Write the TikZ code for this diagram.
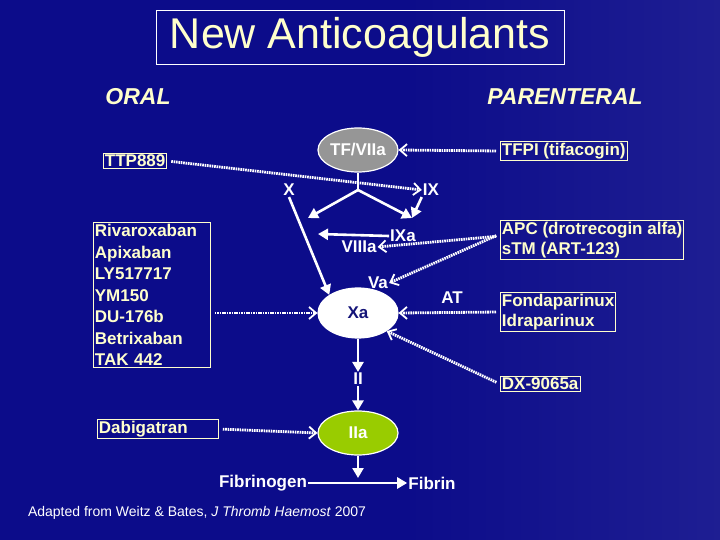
\documentclass[tikz,border=0pt]{standalone}
\usepackage{fontspec}
\setmainfont{Liberation Sans}
\usetikzlibrary{arrows.meta,shapes.geometric}
\definecolor{bg}{RGB}{12,12,138}
\definecolor{cream}{RGB}{255,255,204}
\definecolor{tfgray}{RGB}{150,150,150}
\definecolor{iiagreen}{RGB}{153,204,0}
\definecolor{xatext}{RGB}{20,20,120}
\begin{document}
\begin{tikzpicture}[x=1pt,y=-1pt,
  drug/.style={draw=cream,line width=0.8pt,text=cream,font=\bfseries\fontsize{17}{20}\selectfont,inner sep=1.5pt,align=left,anchor=west},
  lbl/.style={text=white,font=\bfseries\fontsize{17}{20}\selectfont,inner sep=1pt},
  fact/.style={ellipse,draw=white,line width=1.2pt,minimum width=80pt,minimum height=46pt,inner sep=0pt,font=\bfseries\fontsize{17}{20}\selectfont},
  dot/.style={white,line width=2.8pt,dash pattern=on 1.6pt off 0.8pt,shorten <=4pt,-{Straight Barb[length=7pt,width=12pt,line width=1.8pt]}},
  sol/.style={white,line width=2.6pt,-{Triangle[length=10pt,width=11pt]}},
  hd/.style={text=cream,font=\bfseries\itshape\fontsize{23}{26}\selectfont}]
\fill[bg] (0,0) rectangle (720,540);
\shade[left color=bg,right color=bg!70!white,opacity=0.25] (400,0) rectangle (720,540);
\node[draw=white,line width=0.8pt,text=cream,font=\fontsize{43}{46}\selectfont,minimum width=408pt,minimum height=54pt,inner sep=0pt] (title) at (360,37) {New Anticoagulants};
\node[hd] (oral) at (138,97) {ORAL};
\node[hd] (par) at (565,97) {PARENTERAL};
\node[fact,fill=tfgray,text=white,minimum height=44pt] (tf) at (358,150) {TF/VIIa};
\node[fact,fill=white,text=xatext,minimum height=50pt] (xa) at (358,313) {Xa};
\node[fact,fill=iiagreen,text=white,minimum height=44pt] (iia) at (358,433) {IIa};
\node[drug] (ttp) at (103,161) {TTP889};
\node[drug] (tfpi) at (500,151) {TFPI (tifacogin)};
\node[drug,text width=114pt,font=\bfseries\fontsize{17}{21.5}\selectfont] (riva) at (93,295) {Rivaroxaban\\Apixaban\\LY517717\\YM150\\DU-176b\\Betrixaban\\TAK 442};
\node[drug] (apc) at (500,240) {APC (drotrecogin alfa)\\sTM (ART-123)};
\node[drug] (fonda) at (500,312) {Fondaparinux\\Idraparinux};
\node[drug] (dx) at (500,384) {DX-9065a};
\node[drug,text width=118pt] (dabi) at (97,429) {Dabigatran};
\node[lbl] (x) at (289,190) {X};
\node[lbl] (ix) at (431,190) {IX};
\node[lbl] (ixa) at (403,236) {IXa};
\node[lbl] (viiia) at (359,247) {VIIIa};
\node[lbl] (va) at (378,283) {Va};
\node[lbl] (at) at (452,298) {AT};
\node[lbl] (ii) at (358,379) {II};
\node[lbl] (fgn) at (263,483) {Fibrinogen};
\node[lbl] (fbn) at (432,483) {Fibrin};
\node[text=white,font=\fontsize{14}{16}\selectfont] (cite) at (197,513) {Adapted from Weitz \& Bates, \textit{J Thromb Haemost} 2007};
\coordinate (br) at (358,190);
\coordinate (xpt) at (308,218);
\coordinate (ixpt) at (412,218);
\coordinate (viiipt) at (318,234);
% solid arrows
\draw[white,line width=2.6pt] (tf.south) -- (br);
\draw[sol] (br) -- (xpt);
\draw[sol] (br) -- (ixpt);
\draw[sol] (ix.south west) -- (ixpt);
\draw[sol] (ixa.west) -- (viiipt);
\draw[sol] (x.south) -- (xa.north west);
\draw[sol] (xa.south) -- (ii.north);
\draw[sol] (ii.south) -- (iia.north);
\draw[sol] (iia.south) -- (358,478);
\draw[sol] (fgn.east) -- (fbn.west);
% dotted arrows
\draw[dot] (ttp.east) -- (ix.west);
\draw[dot] (tfpi.west) -- (tf.east);
\draw[dot] (riva.east |- xa) -- (xa.west);
\draw[dot] ([yshift=4pt]apc.west) -- (viiia.east);
\draw[dot] ([yshift=6pt]apc.west) -- (va.east);
\draw[dot] (fonda.west) -- (xa.east);
\draw[dot] (dx.west) -- (xa.south east);
\draw[dot] (dabi.east) -- (iia.west);
\end{tikzpicture}
\end{document}
